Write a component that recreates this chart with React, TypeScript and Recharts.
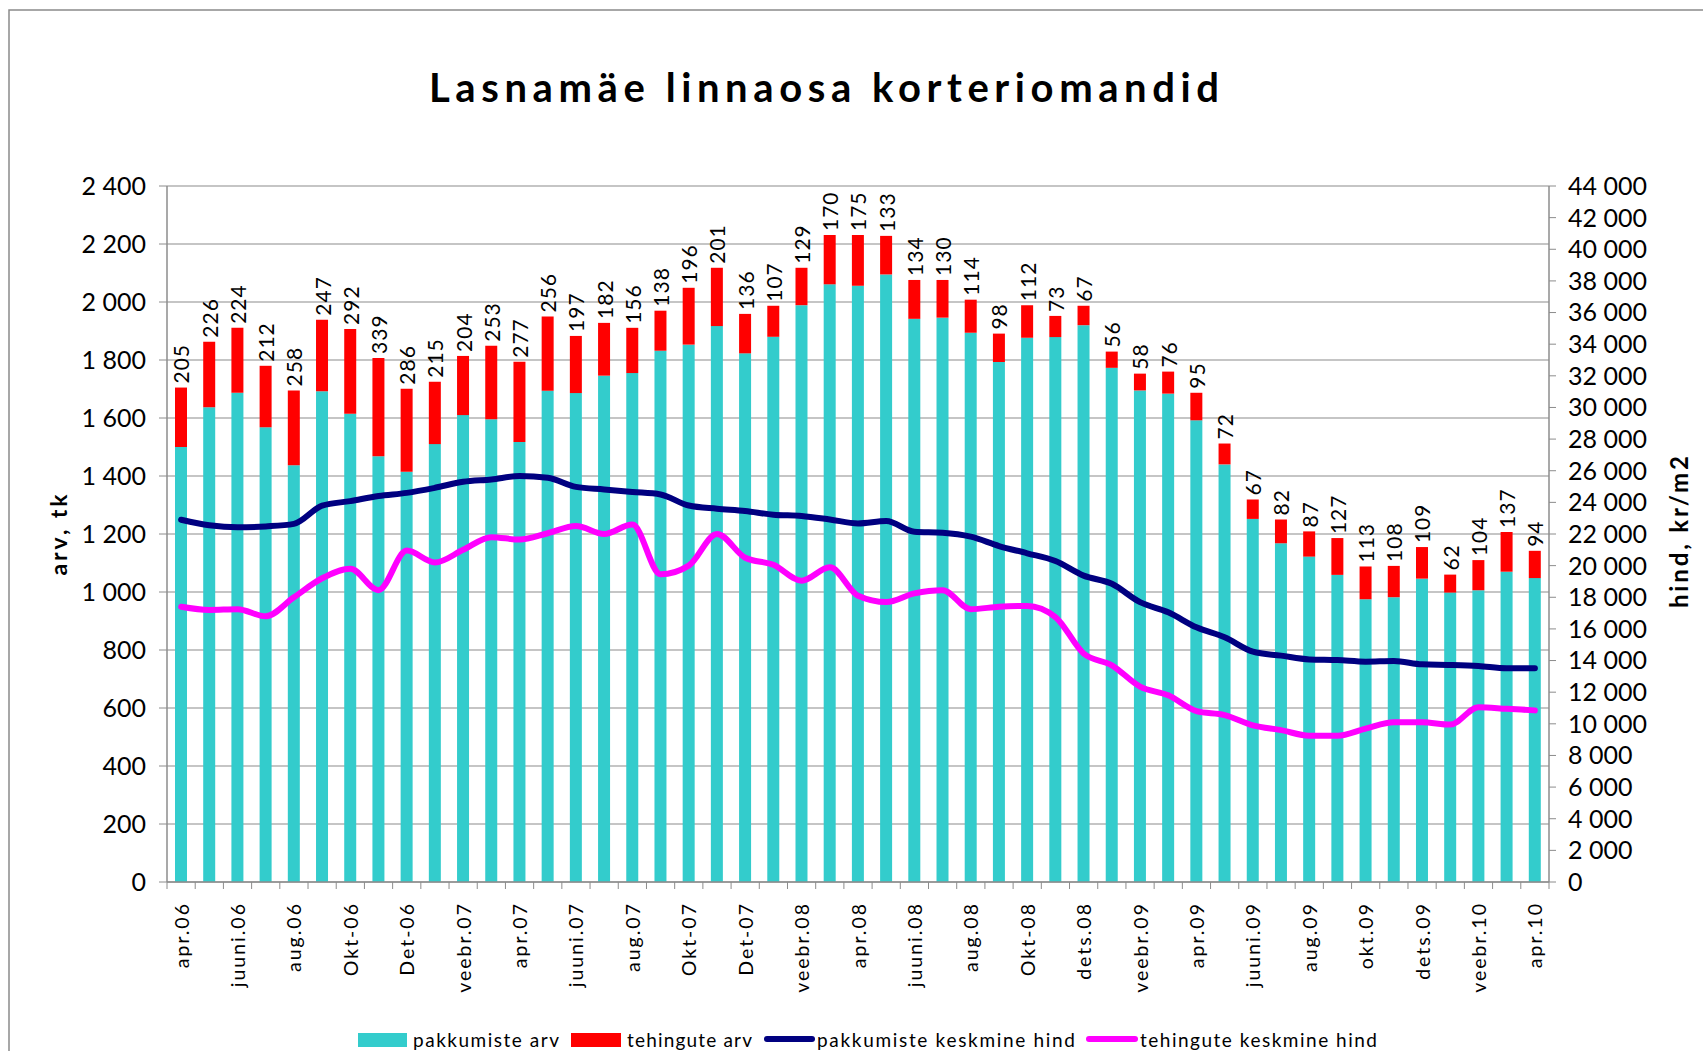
import React from 'react'
import {
    ComposedChart,
    Bar,
    Line,
    XAxis,
    YAxis,
    CartesianGrid,
    LabelList
} from "recharts"

const months = [
    'apr.06', 'mai.06', 'juuni.06', 'juuli.06', 'aug.06', 'sept.06', 'Okt-06', 'Nov-06', 'Det-06', 'jaan.07',
    'veebr.07', 'märts.07', 'apr.07', 'mai.07', 'juuni.07', 'juuli.07', 'aug.07', 'sept.07', 'Okt-07', 'Nov-07',
    'Det-07', 'jaan.08', 'veebr.08', 'märts.08', 'apr.08', 'mai.08', 'juuni.08', 'juuli.08', 'aug.08', 'sept.08',
    'Okt-08', 'nov.08', 'dets.08', 'jaan.09', 'veebr.09', 'märts.09', 'apr.09', 'mai.09', 'juuni.09', 'juuli.09',
    'aug.09', 'sept.09', 'okt.09', 'nov.09', 'dets.09', 'jaan.10', 'veebr.10', 'märts.10', 'apr.10'
]

// pakkumiste arv (offers, teal)
const pakkumisteArv = [
    1500, 1637, 1687, 1568, 1437, 1692, 1615, 1468, 1415, 1510,
    1610, 1596, 1517, 1694, 1686, 1746, 1755, 1832, 1853, 1917,
    1823, 1880, 1989, 2061, 2056, 2095, 1942, 1946, 1894, 1793,
    1877, 1879, 1920, 1773, 1695, 1684, 1592, 1440, 1252, 1168,
    1122, 1059, 975, 982, 1046, 998, 1006, 1070, 1048
]

// tehingute arv (deals, red)
const tehinguteArv = [
    205, 226, 224, 212, 258, 247, 292, 339, 286, 215,
    204, 253, 277, 256, 197, 182, 156, 138, 196, 201,
    136, 107, 129, 170, 175, 133, 134, 130, 114, 98,
    112, 73, 67, 56, 58, 76, 95, 72, 67, 82,
    87, 127, 113, 108, 109, 62, 104, 137, 94
]

// pakkumiste keskmine hind, kr/m2
const pakkumisteHind = [
    22900, 22550, 22420, 22480, 22640, 23790, 24080, 24400, 24600, 24920,
    25300, 25450, 25660, 25560, 24980, 24820, 24660, 24500, 23800, 23600,
    23450, 23220, 23140, 22920, 22670, 22820, 22140, 22080, 21830, 21240,
    20780, 20290, 19370, 18850, 17690, 17050, 16100, 15470, 14560, 14310,
    14070, 14030, 13930, 13970, 13760, 13720, 13650, 13510, 13510
]

// tehingute keskmine hind, kr/m2
const tehinguteHind = [
    17400, 17200, 17250, 16800, 18000, 19200, 19800, 18450, 20950, 20200,
    21000, 21800, 21650, 22050, 22500, 22000, 22600, 19450, 20000, 22000,
    20500, 20050, 19050, 19900, 18100, 17700, 18250, 18450, 17250, 17400,
    17450, 16750, 14450, 13700, 12350, 11800, 10800, 10550, 9900, 9600,
    9250, 9250, 9700, 10100, 10100, 9950, 11050, 10950, 10850
]

const leftTicks = [0, 200, 400, 600, 800, 1000, 1200, 1400, 1600, 1800, 2000, 2200, 2400]
const rightTicks = [
    0, 2000, 4000, 6000, 8000, 10000, 12000, 14000, 16000, 18000, 20000, 22000,
    24000, 26000, 28000, 30000, 32000, 34000, 36000, 38000, 40000, 42000, 44000
]

const data = months.map((m, i) => ({
    month: m,
    pakk: pakkumisteArv[i],
    teh: tehinguteArv[i],
    pakkHind: pakkumisteHind[i],
    tehHind: tehinguteHind[i]
}))

const FONT = 'Lato, "Open Sans", sans-serif'
const GRID = '#8c8c8c'

const fmt = (v: number) => String(v).replace(/\B(?=(\d{3})+(?!\d))/g, ' ')

function MonthTick(props: any) {
    const { x, y, payload, index, visibleTicksCount, width } = props
    const band = width && visibleTicksCount ? width / visibleTicksCount : 28.2
    const last = index === visibleTicksCount - 1
    const ly = y + 20
    return (
        <g>
            <line x1={x - band / 2} x2={x - band / 2} y1={y} y2={y + 7} stroke={GRID} />
            {last && <line x1={x + band / 2} x2={x + band / 2} y1={y} y2={y + 7} stroke={GRID} />}
            {index % 2 === 0 && (
                <text
                x={x}
                y={ly}
                transform={`rotate(-90, ${x}, ${ly})`}
                textAnchor="end"
                dominantBaseline="central"
                fontSize={19.5}
                letterSpacing={2}
                fontFamily={FONT}
                fill="#000"
                >
                    {payload.value}
                </text>
            )}
        </g>
    )
}

function DealLabel(props: any) {
    const { x, y, width, value } = props
    const cx = x + width / 2
    const cy = y - 4
    return (
        <text
        x={cx}
        y={cy}
        transform={`rotate(-90, ${cx}, ${cy})`}
        textAnchor="start"
        dominantBaseline="central"
        fontSize={21}
        letterSpacing={1}
        fontFamily={FONT}
        fill="#000"
        >
            {value}
        </text>
    )
}

export default function App() {
  return (
    <div style={{ position: 'absolute', left: 0, top: 0, width: 1703, height: 1051, background: '#fff' }}>
        <ComposedChart
        width={1703}
        height={1051}
        data={data}
        margin={{ top: 186, right: 0, bottom: 0, left: 0 }}
        >
            <CartesianGrid
            yAxisId="left"
            vertical={false}
            stroke={GRID}
            strokeWidth={1.2}
            />

            <XAxis
            dataKey="month"
            interval={0}
            height={169}
            tickSize={0}
            tickMargin={0}
            tickLine={false}
            axisLine={{ stroke: GRID, strokeWidth: 1.5 }}
            tick={<MonthTick />}
            />

            <YAxis
            yAxisId="left"
            width={167}
            domain={[0, 2400]}
            ticks={leftTicks}
            interval={0}
            tickSize={8}
            tickMargin={13}
            axisLine={{ stroke: GRID, strokeWidth: 1.5 }}
            tickLine={{ stroke: GRID }}
            tickFormatter={fmt}
            tick={{ fill: '#000', fontSize: 25, fontFamily: FONT }}
            />

            <YAxis
            yAxisId="right"
            orientation="right"
            width={154}
            domain={[0, 44000]}
            ticks={rightTicks}
            interval={0}
            tickSize={7}
            tickMargin={12}
            axisLine={{ stroke: GRID, strokeWidth: 1.5 }}
            tickLine={{ stroke: GRID }}
            tickFormatter={fmt}
            tick={{ fill: '#000', fontSize: 25, fontFamily: FONT }}
            />

            <Bar
            yAxisId="left"
            dataKey="pakk"
            stackId="a"
            fill="#33CCCC"
            barSize={12}
            isAnimationActive={false}
            />
            <Bar
            yAxisId="left"
            dataKey="teh"
            stackId="a"
            fill="#FF0000"
            barSize={12}
            isAnimationActive={false}
            >
                <LabelList dataKey="teh" content={<DealLabel />} />
            </Bar>

            <Line
            yAxisId="right"
            dataKey="pakkHind"
            type="monotone"
            stroke="#000080"
            strokeWidth={6}
            strokeLinecap="round"
            dot={false}
            activeDot={false}
            isAnimationActive={false}
            />
            <Line
            yAxisId="right"
            dataKey="tehHind"
            type="monotone"
            stroke="#FF00FF"
            strokeWidth={6}
            strokeLinecap="round"
            dot={false}
            activeDot={false}
            isAnimationActive={false}
            />
        </ComposedChart>

        <svg
        width={1703}
        height={1051}
        style={{ position: 'absolute', left: 0, top: 0, pointerEvents: 'none' }}
        >
            <path d="M9 1051 V10 H1703" stroke="#8a8a8a" strokeWidth={1.5} fill="none" />

            <text
            x={824}
            y={102}
            textAnchor="middle"
            fontSize={40}
            fontWeight="bold"
            fontFamily={FONT}
            textLength={790}
            lengthAdjust="spacing"
            >
                Lasnamäe linnaosa korteriomandid
            </text>

            <text
            x={58}
            y={535}
            transform="rotate(-90, 58, 535)"
            textAnchor="middle"
            dominantBaseline="central"
            fontSize={23}
            fontWeight="bold"
            fontFamily={FONT}
            textLength={81}
            lengthAdjust="spacing"
            >
                arv, tk
            </text>
            <text
            x={1678}
            y={532}
            transform="rotate(-90, 1678, 532)"
            textAnchor="middle"
            dominantBaseline="central"
            fontSize={24}
            fontWeight="bold"
            fontFamily={FONT}
            textLength={152}
            lengthAdjust="spacing"
            >
                hind, kr/m2
            </text>

            {/* legend */}
            <g fontFamily={FONT} fontSize={19} fill="#000">
                <rect x={358} y={1033} width={49} height={14} fill="#33CCCC" />
                <text x={413} y={1047} textLength={146} lengthAdjust="spacing">pakkumiste arv</text>
                <rect x={571} y={1033} width={50} height={14} fill="#FF0000" />
                <text x={627} y={1047} textLength={125} lengthAdjust="spacing">tehingute arv</text>
                <line x1={767} x2={812} y1={1039} y2={1039} stroke="#000080" strokeWidth={6} strokeLinecap="round" />
                <text x={817} y={1047} textLength={258} lengthAdjust="spacing">pakkumiste keskmine hind</text>
                <line x1={1089} x2={1135} y1={1039} y2={1039} stroke="#FF00FF" strokeWidth={6} strokeLinecap="round" />
                <text x={1140} y={1047} textLength={237} lengthAdjust="spacing">tehingute keskmine hind</text>
            </g>
        </svg>
    </div>
  )
}
